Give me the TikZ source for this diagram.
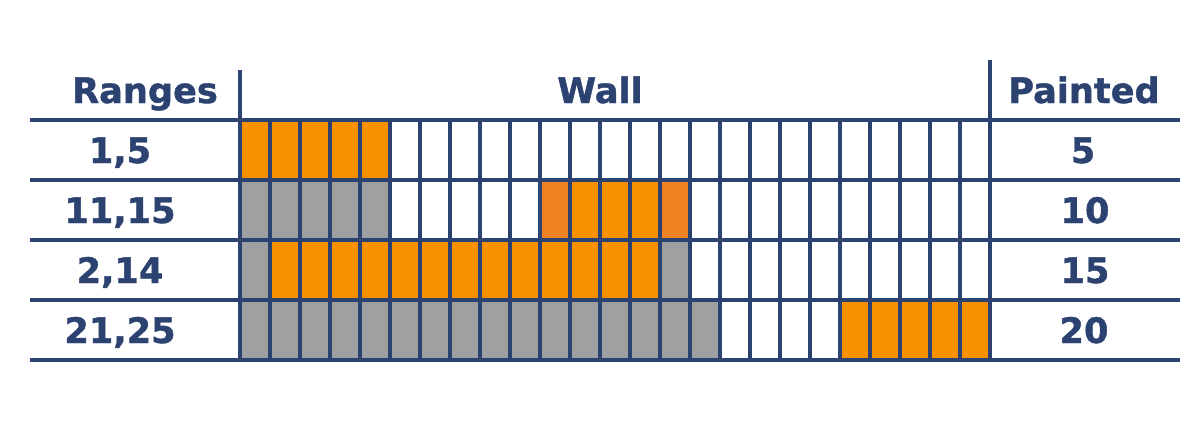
\documentclass[tikz,border=0pt]{standalone}
\usepackage{fontspec}
\setmainfont{DejaVu Sans}[BoldFeatures={FakeBold=1.2}]
\definecolor{navy}{HTML}{2C4372}
\definecolor{paint}{HTML}{F79100}
\definecolor{paintdark}{HTML}{EE8220}
\definecolor{old}{HTML}{A0A0A0}
\begin{document}
\begin{tikzpicture}[x=0.02cm,y=-0.02cm,
  lbl/.style={anchor=base,text=navy,font=\fontsize{20}{24}\selectfont\bfseries,inner sep=0pt},
  rule/.style={draw=navy,line width=2.2pt},
  gridline/.style={draw=navy,line width=2pt}]
\useasboundingbox (0,0) rectangle (1200,430);
% painted cells: row, first col, last col, colour
\foreach \r/\a/\b/\c in {0/1/5/paint,
                         1/1/5/old, 1/11/11/paintdark, 1/12/14/paint, 1/15/15/paintdark,
                         2/1/1/old, 2/2/14/paint, 2/15/15/old,
                         3/1/16/old, 3/21/25/paint}{
  \fill[\c] ({240+30*(\a-1)},{120+60*\r}) rectangle ({240+30*\b},{180+60*\r});
}
% wall grid vertical lines
\foreach \k in {1,...,24}{
  \draw[gridline] ({240+30*\k},120) -- ({240+30*\k},360);
}
\draw[rule] (240,70) -- (240,360);
\draw[rule] (990,60) -- (990,360);
% horizontal rules
\foreach \y in {120,180,240,300,360}{
  \draw[rule] (30,\y) -- (1180,\y);
}
% headers
\node[lbl] (hr) at (145,103) {Ranges};
\node[lbl] (hw) at (600,103) {Wall};
\node[lbl] (hp) at (1084,103) {Painted};
% rows
\node[lbl] (r1) at (120,163) {1,5};
\node[lbl] (r2) at (120,223) {11,15};
\node[lbl] (r3) at (120,283) {2,14};
\node[lbl] (r4) at (120,343) {21,25};
\node[lbl] (p1) at (1083,163) {5};
\node[lbl] (p2) at (1085,223) {10};
\node[lbl] (p3) at (1085,283) {15};
\node[lbl] (p4) at (1084,343) {20};
\end{tikzpicture}
\end{document}
